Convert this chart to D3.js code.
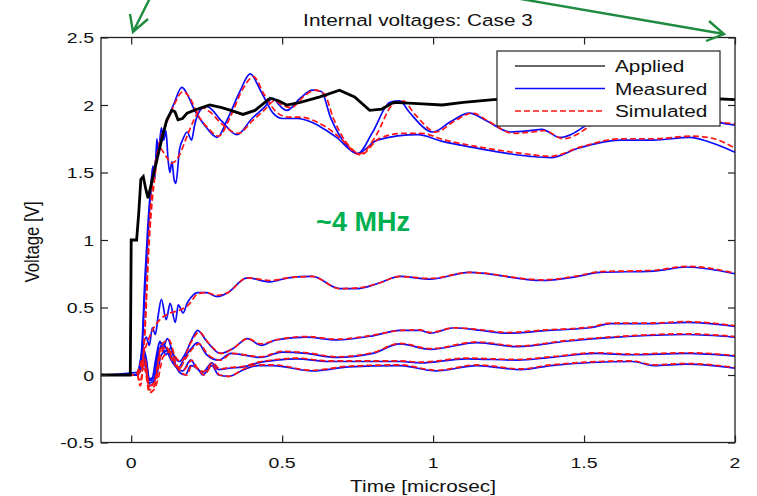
<!DOCTYPE html>
<html>
<head>
<meta charset="utf-8">
<script src="https://cdn.jsdelivr.net/npm/d3@7"></script>
<style>
  body { margin: 0; background: #fff; }
  svg text { font-family: "Liberation Sans", Arial, sans-serif; fill: #111; }
</style>
</head>
<body>
<svg id="plot" width="757" height="496"></svg>
<script>
// time in microsec, value in V
let xTicks = [0, 0.5, 1, 1.5, 2];
let yTicks = [-0.5, 0, 0.5, 1, 1.5, 2, 2.5];

let applied = [[-0.1,0],[-0.003,0],[0,1.0],[0.018,1.0],[0.025,1.2],[0.032,1.45],[0.04,1.47],[0.048,1.38],[0.056,1.31],[0.07,1.45],[0.09,1.64],[0.105,1.78],[0.118,1.89],[0.135,1.96],[0.145,1.95],[0.155,1.89],[0.17,1.9],[0.185,1.94],[0.22,1.97],[0.26,2.0],[0.3,1.98],[0.33,1.96],[0.37,1.93],[0.41,1.96],[0.46,2.05],[0.49,2.03],[0.515,2.0],[0.56,2.02],[0.625,2.06],[0.69,2.11],[0.74,2.06],[0.79,1.96],[0.83,1.97],[0.87,2.02],[0.95,2.01],[1.03,2.0],[1.1,2.02],[1.2,2.04],[1.3,2.05],[1.4,2.07],[1.5,2.08],[1.6,2.07],[1.7,2.06],[1.8,2.05],[1.9,2.05],[2.0,2.04]];

let measP = [[-0.1,0],[0.02,0],[0.035,0.15],[0.045,0.6],[0.055,1.0],[0.063,1.3],[0.075,1.5],[0.09,1.7],[0.1,1.75],[0.118,1.88],[0.14,2.0],[0.168,2.13],[0.19,2.06],[0.21,1.96],[0.24,1.86],[0.285,1.76],[0.32,1.9],[0.36,2.1],[0.394,2.23],[0.43,2.1],[0.47,1.94],[0.5,1.9],[0.55,1.9],[0.6,1.87],[0.64,1.82],[0.68,1.76],[0.75,1.64],[0.815,1.74],[0.95,1.78],[1.03,1.73],[1.145,1.68],[1.32,1.62],[1.39,1.61],[1.48,1.68],[1.62,1.74],[1.73,1.74],[1.85,1.76],[1.91,1.73],[2.0,1.65]];
let simP = [[-0.1,0],[0.02,0],[0.03,-0.08],[0.04,0.1],[0.05,0.6],[0.06,1.1],[0.07,1.4],[0.09,1.68],[0.118,1.87],[0.14,1.99],[0.172,2.1],[0.195,2.05],[0.22,1.93],[0.25,1.84],[0.29,1.77],[0.33,1.92],[0.37,2.12],[0.405,2.21],[0.44,2.08],[0.48,1.95],[0.52,1.91],[0.56,1.91],[0.61,1.88],[0.65,1.83],[0.69,1.76],[0.76,1.63],[0.82,1.75],[0.9,1.79],[0.96,1.79],[1.04,1.74],[1.15,1.69],[1.3,1.64],[1.39,1.62],[1.49,1.69],[1.62,1.75],[1.73,1.75],[1.86,1.77],[1.93,1.75],[2.0,1.68]];

let measQ = [[-0.1,0],[0.02,0],[0.035,0.2],[0.045,0.7],[0.055,1.1],[0.065,1.4],[0.072,1.55],[0.078,1.45],[0.085,1.75],[0.09,1.65],[0.1,1.83],[0.108,1.74],[0.115,1.81],[0.122,1.6],[0.128,1.5],[0.135,1.58],[0.142,1.45],[0.148,1.42],[0.16,1.67],[0.172,1.75],[0.185,1.8],[0.2,1.74],[0.21,1.85],[0.228,1.96],[0.25,1.99],[0.3,1.88],[0.35,1.78],[0.4,1.9],[0.44,1.98],[0.47,2.05],[0.49,2.0],[0.515,1.96],[0.56,2.05],[0.6,2.11],[0.63,2.1],[0.66,1.91],[0.7,1.74],[0.75,1.64],[0.8,1.8],[0.857,2.02],[0.89,2.03],[0.92,1.95],[1.0,1.8],[1.06,1.88],[1.12,1.94],[1.18,1.88],[1.255,1.8],[1.32,1.81],[1.36,1.82],[1.42,1.76],[1.5,1.84],[1.56,1.95],[1.65,2.0],[1.75,1.97],[1.85,1.92],[1.95,1.87],[2.0,1.85]];
let simQ = [[-0.1,0],[0.02,0],[0.03,-0.05],[0.045,0.3],[0.06,1.0],[0.08,1.5],[0.095,1.68],[0.115,1.62],[0.135,1.57],[0.16,1.63],[0.185,1.77],[0.21,1.9],[0.235,1.98],[0.26,1.95],[0.3,1.86],[0.355,1.79],[0.4,1.88],[0.44,1.96],[0.475,2.03],[0.5,2.0],[0.53,1.98],[0.57,2.06],[0.61,2.11],[0.64,2.08],[0.67,1.9],[0.71,1.73],[0.76,1.64],[0.81,1.77],[0.865,2.0],[0.9,2.03],[0.94,1.93],[1.01,1.8],[1.07,1.88],[1.13,1.94],[1.19,1.87],[1.265,1.79],[1.33,1.8],[1.37,1.81],[1.43,1.75],[1.51,1.83],[1.57,1.95],[1.66,2.0],[1.76,1.97],[1.86,1.92],[1.96,1.87],[2.0,1.86]];

let measM = [[-0.1,0],[0.02,0.02],[0.03,0.1],[0.04,0.22],[0.05,0.28],[0.06,0.22],[0.07,0.35],[0.08,0.3],[0.09,0.45],[0.1,0.56],[0.116,0.41],[0.129,0.53],[0.146,0.39],[0.156,0.52],[0.172,0.46],[0.185,0.53],[0.2,0.58],[0.22,0.61],[0.25,0.61],[0.285,0.58],[0.32,0.61],[0.384,0.72],[0.46,0.69],[0.52,0.72],[0.6,0.73],[0.69,0.64],[0.75,0.64],[0.82,0.68],[0.89,0.73],[0.99,0.71],[1.12,0.76],[1.36,0.7],[1.48,0.73],[1.55,0.76],[1.73,0.77],[1.84,0.8],[2.0,0.75]];
let simM = [[-0.1,0],[0.015,0],[0.03,0.08],[0.05,0.22],[0.07,0.33],[0.1,0.42],[0.13,0.46],[0.16,0.48],[0.19,0.52],[0.22,0.6],[0.25,0.61],[0.285,0.59],[0.32,0.61],[0.384,0.72],[0.46,0.7],[0.52,0.72],[0.6,0.73],[0.69,0.64],[0.75,0.645],[0.82,0.68],[0.89,0.73],[0.99,0.715],[1.12,0.76],[1.36,0.705],[1.48,0.735],[1.55,0.765],[1.73,0.775],[1.84,0.805],[2.0,0.755]];

let measL1 = [[-0.1,0],[0.02,0],[0.03,0.06],[0.04,0.2],[0.05,0.12],[0.06,-0.03],[0.07,-0.02],[0.08,0.1],[0.095,0.25],[0.105,0.2],[0.12,0.27],[0.14,0.15],[0.16,0.1],[0.18,0.16],[0.2,0.26],[0.22,0.33],[0.25,0.25],[0.295,0.16],[0.34,0.2],[0.385,0.27],[0.43,0.22],[0.48,0.26],[0.58,0.28],[0.68,0.26],[0.8,0.29],[0.89,0.33],[0.957,0.33],[0.99,0.31],[1.07,0.35],[1.16,0.33],[1.245,0.31],[1.38,0.33],[1.52,0.35],[1.59,0.38],[1.72,0.38],[1.84,0.39],[2.0,0.36]];
let simL1 = [[-0.1,0],[0.02,0],[0.035,0.08],[0.045,0.12],[0.06,-0.08],[0.075,-0.06],[0.1,0.22],[0.125,0.26],[0.145,0.14],[0.165,0.1],[0.2,0.25],[0.225,0.32],[0.255,0.24],[0.3,0.16],[0.34,0.2],[0.385,0.27],[0.43,0.23],[0.48,0.26],[0.58,0.285],[0.68,0.265],[0.8,0.295],[0.89,0.33],[0.957,0.335],[0.99,0.315],[1.07,0.35],[1.16,0.335],[1.245,0.315],[1.38,0.335],[1.52,0.355],[1.59,0.385],[1.72,0.385],[1.84,0.395],[2.0,0.365]];

let measL2 = [[-0.1,0],[0.02,0],[0.03,0.05],[0.04,0.18],[0.05,0.1],[0.06,-0.04],[0.075,-0.02],[0.095,0.24],[0.11,0.22],[0.13,0.12],[0.155,0.05],[0.175,0.12],[0.2,0.2],[0.22,0.24],[0.25,0.15],[0.29,0.11],[0.33,0.16],[0.43,0.13],[0.5,0.17],[0.58,0.16],[0.68,0.13],[0.8,0.16],[0.89,0.23],[0.99,0.19],[1.145,0.24],[1.28,0.21],[1.44,0.25],[1.61,0.28],[1.84,0.3],[2.0,0.28]];
let simL2 = [[-0.1,0],[0.02,0],[0.035,0.07],[0.045,0.1],[0.06,-0.09],[0.078,-0.05],[0.1,0.2],[0.115,0.21],[0.135,0.11],[0.16,0.05],[0.18,0.12],[0.205,0.2],[0.225,0.23],[0.255,0.15],[0.295,0.11],[0.335,0.16],[0.43,0.135],[0.5,0.175],[0.58,0.165],[0.68,0.135],[0.8,0.165],[0.89,0.235],[0.99,0.195],[1.145,0.245],[1.28,0.215],[1.44,0.255],[1.61,0.285],[1.84,0.305],[2.0,0.285]];

let measL3 = [[-0.1,0],[0.02,0],[0.03,0.04],[0.04,0.15],[0.05,0.05],[0.06,-0.06],[0.075,-0.04],[0.09,0.15],[0.1,0.22],[0.115,0.15],[0.13,0.2],[0.15,0.06],[0.17,0.03],[0.197,0.11],[0.217,0.05],[0.237,0.02],[0.267,0.09],[0.29,0.04],[0.323,0.05],[0.373,0.06],[0.42,0.09],[0.48,0.11],[0.55,0.12],[0.65,0.1],[0.8,0.1],[0.89,0.1],[0.957,0.09],[1.11,0.12],[1.28,0.11],[1.39,0.13],[1.54,0.16],[1.66,0.15],[1.84,0.16],[2.0,0.14]];
let simL3 = [[-0.1,0],[0.02,0],[0.035,0.06],[0.045,0.08],[0.06,-0.11],[0.08,-0.07],[0.095,0.12],[0.11,0.2],[0.135,0.16],[0.155,0.06],[0.175,0.04],[0.2,0.11],[0.22,0.05],[0.24,0.025],[0.27,0.09],[0.293,0.045],[0.325,0.055],[0.373,0.065],[0.42,0.095],[0.48,0.115],[0.55,0.125],[0.65,0.105],[0.8,0.105],[0.89,0.105],[0.957,0.095],[1.11,0.125],[1.28,0.115],[1.39,0.135],[1.54,0.165],[1.66,0.155],[1.84,0.165],[2.0,0.145]];

let measL4 = [[-0.1,0],[0.02,0],[0.03,0.03],[0.04,0.12],[0.05,0.02],[0.06,-0.08],[0.07,-0.07],[0.085,0.0],[0.1,0.15],[0.12,0.18],[0.14,0.1],[0.16,0.02],[0.18,0.0],[0.197,0.07],[0.223,0.04],[0.237,0.0],[0.267,0.07],[0.29,0.0],[0.323,-0.01],[0.373,0.04],[0.42,0.07],[0.47,0.07],[0.6,0.03],[0.72,0.06],[0.89,0.07],[1.01,0.03],[1.145,0.07],[1.29,0.04],[1.39,0.07],[1.66,0.1],[1.73,0.07],[1.84,0.08],[2.0,0.05]];
let simL4 = [[-0.1,0],[0.02,0],[0.035,0.05],[0.045,0.04],[0.06,-0.13],[0.075,-0.11],[0.09,-0.02],[0.105,0.13],[0.125,0.17],[0.145,0.09],[0.165,0.02],[0.185,0.0],[0.2,0.07],[0.225,0.04],[0.24,0.0],[0.27,0.07],[0.293,0.0],[0.325,-0.01],[0.373,0.045],[0.42,0.075],[0.47,0.075],[0.6,0.035],[0.72,0.065],[0.89,0.075],[1.01,0.035],[1.145,0.075],[1.29,0.045],[1.39,0.075],[1.66,0.105],[1.73,0.075],[1.84,0.085],[2.0,0.055]];

let measured = [measP, measQ, measM, measL1, measL2, measL3, measL4];
let simulated = [simP, simQ, simM, simL1, simL2, simL3, simL4];

let legendNames = ['Applied', 'Measured', 'Simulated'];

let svg = d3.select('#plot');
let sx = 1.26; // the figure is stretched sideways

let frame = {left: 101, right: 735, top: 37.5, bottom: 442.5};

let x = d3.scaleLinear().domain([-0.1, 2]).range([frame.left, frame.right]);
let y = d3.scaleLinear().domain([-0.5, 2.5]).range([frame.bottom, frame.top]);

let line = d3.line()
    .x(function(d) { return x(d[0]); })
    .y(function(d) { return y(d[1]); })
    .curve(d3.curveMonotoneX);

function stretchedText(px, py, str, size, anchor) {
    return svg.append('text')
        .attr('transform', 'translate(' + px + ',' + py + ') scale(' + sx + ',1)')
        .attr('text-anchor', anchor || 'middle')
        .style('font-size', size + 'px')
        .text(str);
}

// curves
let curves = svg.append('g');

curves.selectAll('.meas')
    .data(measured)
    .enter().append('path')
    .attr('class', 'meas')
    .attr('d', line)
    .attr('fill', 'none')
    .attr('stroke', '#0a0aff')
    .attr('stroke-width', 1.7);

curves.selectAll('.sim')
    .data(simulated)
    .enter().append('path')
    .attr('class', 'sim')
    .attr('d', line)
    .attr('fill', 'none')
    .attr('stroke', '#ff1414')
    .attr('stroke-width', 1.7)
    .attr('stroke-dasharray', '6,3');

curves.append('path')
    .datum(applied)
    .attr('d', d3.line().x(function(d) { return x(d[0]); }).y(function(d) { return y(d[1]); }))
    .attr('fill', 'none')
    .attr('stroke', '#000')
    .attr('stroke-width', 2.8);

// axes, ticks drawn inward on all four sides
let xAxisB = d3.axisBottom(x).tickValues(xTicks).tickSizeInner(-7).tickSizeOuter(0).tickFormat('');
let xAxisT = d3.axisTop(x).tickValues(xTicks).tickSizeInner(-7).tickSizeOuter(0).tickFormat('');
let yAxisL = d3.axisLeft(y).tickValues(yTicks).tickSizeInner(-7).tickSizeOuter(0).tickFormat('');
let yAxisR = d3.axisRight(y).tickValues(yTicks).tickSizeInner(-7).tickSizeOuter(0).tickFormat('');

function cleanAxis(g) {
    g.select('.domain').remove();
    g.selectAll('.tick line').attr('stroke', '#222').attr('stroke-width', 1.2);
}

svg.append('g').attr('transform', 'translate(0,' + frame.bottom + ')').call(xAxisB).call(cleanAxis);
svg.append('g').attr('transform', 'translate(0,' + frame.top + ')').call(xAxisT).call(cleanAxis);
svg.append('g').attr('transform', 'translate(' + frame.left + ',0)').call(yAxisL).call(cleanAxis);
svg.append('g').attr('transform', 'translate(' + frame.right + ',0)').call(yAxisR).call(cleanAxis);

svg.append('rect')
    .attr('x', frame.left)
    .attr('y', frame.top)
    .attr('width', frame.right - frame.left)
    .attr('height', frame.bottom - frame.top)
    .attr('fill', 'none')
    .attr('stroke', '#222')
    .attr('stroke-width', 1.3);

xTicks.forEach(function(t) {
    stretchedText(x(t), 468, String(t), 15.5, 'middle');
});
yTicks.forEach(function(v) {
    stretchedText(94, y(v) + 5.5, String(v), 15.5, 'end');
});

stretchedText(418, 26, 'Internal voltages: Case 3', 16.5, 'middle');
stretchedText(423, 492, 'Time [microsec]', 16.5, 'middle');

svg.append('text')
    .attr('transform', 'translate(39,242) rotate(-90) scale(1.05,' + sx + ')')
    .attr('text-anchor', 'middle')
    .style('font-size', '16px')
    .text('Voltage [V]');

// legend
let legend = svg.append('g');
legend.append('rect')
    .attr('x', 497).attr('y', 51)
    .attr('width', 223).attr('height', 75)
    .attr('fill', '#fff')
    .attr('stroke', '#222')
    .attr('stroke-width', 1.2);

let legendStroke = ['#333', '#0a0aff', '#ff1414'];
let legendDash = [null, null, '6,3'];
let legendRow = d3.scaleLinear().domain([0, 2]).range([66, 111]);

legendNames.forEach(function(name, i) {
    legend.append('line')
        .attr('x1', 515).attr('x2', 605)
        .attr('y1', legendRow(i)).attr('y2', legendRow(i))
        .attr('stroke', legendStroke[i])
        .attr('stroke-width', 1.3)
        .attr('stroke-dasharray', legendDash[i]);
    stretchedText(615, legendRow(i) + 6, name, 16.5, 'start');
});

// slide annotations
let green = '#1e8c3f';
let arrows = [
    {from: [150, -2], tip: [133, 32], w1: [130, 14], w2: [148, 19]},
    {from: [515, -2], tip: [724, 34], w1: [709, 21], w2: [706, 41]}
];
arrows.forEach(function(a) {
    svg.append('path')
        .attr('d', 'M' + a.from + 'L' + a.tip + 'M' + a.w1 + 'L' + a.tip + 'L' + a.w2)
        .attr('fill', 'none')
        .attr('stroke', green)
        .attr('stroke-width', 2.4)
        .attr('stroke-linejoin', 'miter');
});

svg.append('text')
    .attr('x', 363).attr('y', 231)
    .attr('text-anchor', 'middle')
    .style('font-size', '27px')
    .style('font-weight', 'bold')
    .style('fill', '#00b050')
    .text('~4 MHz');
</script>
</body>
</html>
